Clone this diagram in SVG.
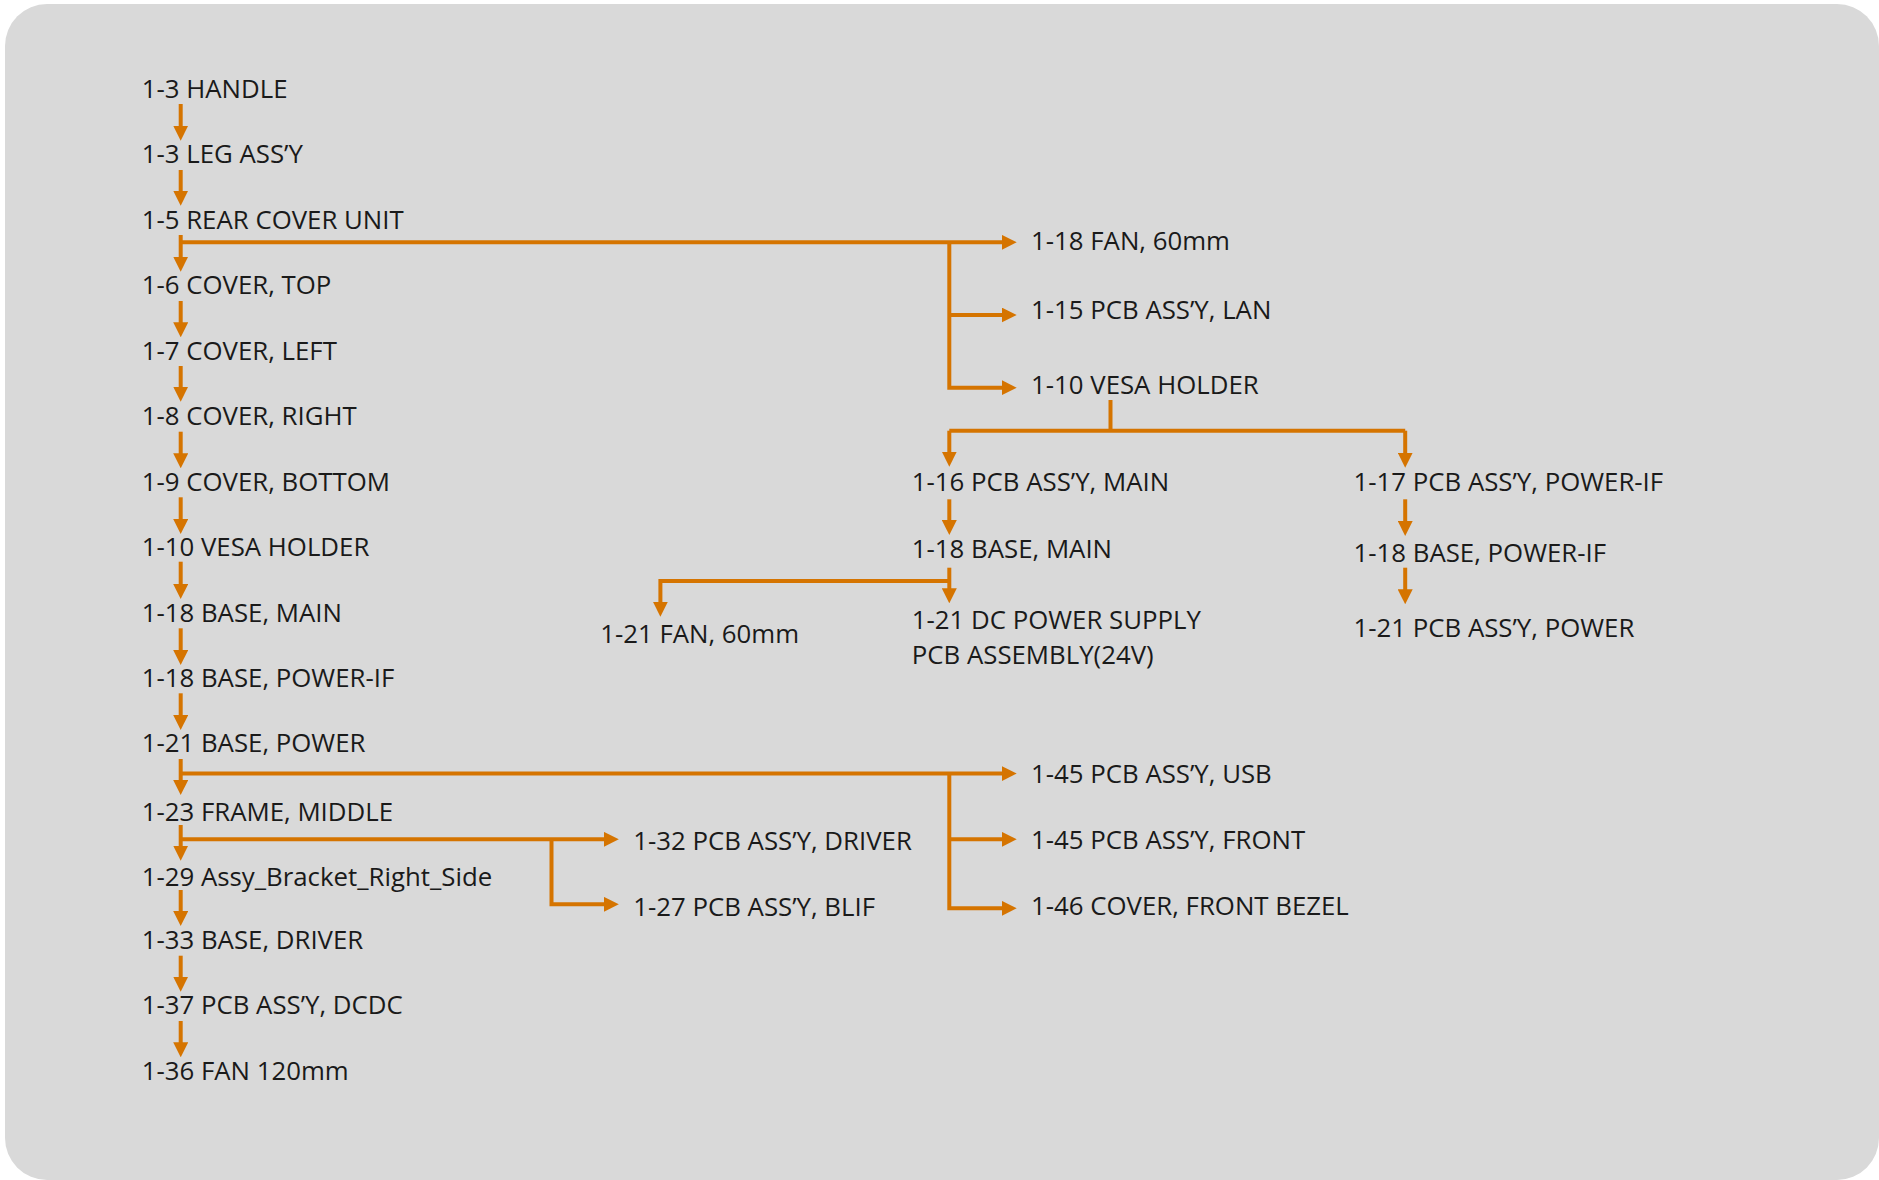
<svg xmlns="http://www.w3.org/2000/svg" width="1879" height="1180" viewBox="0 0 1879 1180">
<defs>
<style>
.t{font-family:"Open Sans","Noto Sans","Liberation Sans",sans-serif;font-size:25.8px;fill:#1a1a1a}
.c{fill:none;stroke:#D57400;stroke-width:4}
.a{marker-end:url(#ah)}
</style>
<marker id="ah" markerUnits="userSpaceOnUse" markerWidth="15" markerHeight="15" refX="7" refY="7.5" orient="auto">
<path d="M0,0 L15,7.5 L0,15 Z" fill="#D57400"/>
</marker>
</defs>
<rect x="5" y="4" width="1874" height="1176" rx="42" ry="42" fill="#D9D9D9"/>
<g id="connectors">
<path class="c a" d="M180.7,104 V132.7"/>
<path class="c a" d="M180.7,170 V197.7"/>
<path class="c a" d="M180.7,235 V263.7"/>
<path class="c a" d="M180.7,301 V329.3"/>
<path class="c a" d="M180.7,366 V393.7"/>
<path class="c a" d="M180.7,431.7 V460.3"/>
<path class="c a" d="M180.7,497.3 V526"/>
<path class="c a" d="M180.7,561.7 V591"/>
<path class="c a" d="M180.7,628.3 V657"/>
<path class="c a" d="M180.7,693.3 V722"/>
<path class="c a" d="M180.7,759 V787"/>
<path class="c a" d="M180.7,825 V852.7"/>
<path class="c a" d="M180.7,890 V918"/>
<path class="c a" d="M180.7,955.7 V983.7"/>
<path class="c a" d="M180.7,1021 V1049.3"/>
<path class="c a" d="M180.7,242.3 H1008.7"/>
<path class="c a" d="M949.3,242.3 V387.7 H1008.7"/>
<path class="c a" d="M949.3,315 H1008.7"/>
<path class="c" d="M1110.5,400 V430.7"/>
<path class="c" d="M949.3,430.7 H1405.2"/>
<path class="c a" d="M949.3,430.7 V458.7"/>
<path class="c a" d="M1405.2,430.7 V459.7"/>
<path class="c a" d="M949.3,499.3 V527"/>
<path class="c a" d="M949.3,567.7 V595.3"/>
<path class="c a" d="M949.3,581 H660.4 V608.7"/>
<path class="c a" d="M1405.2,499.3 V528"/>
<path class="c a" d="M1405.2,567.7 V596.3"/>
<path class="c a" d="M180.7,773.6 H1008.7"/>
<path class="c a" d="M949.3,773.6 V908.3 H1008.7"/>
<path class="c a" d="M949.3,839.3 H1008.7"/>
<path class="c a" d="M180.7,839.3 H610.8"/>
<path class="c a" d="M551.5,839.3 V904.3 H610.8"/>
</g>
<g id="n-handle"><text class="t" x="141.7" y="98.3">1-3 HANDLE</text></g>
<g id="n-leg"><text class="t" x="141.7" y="163.3">1-3 LEG ASS’Y</text></g>
<g id="n-rear"><text class="t" x="141.7" y="229.3">1-5 REAR COVER UNIT</text></g>
<g id="n-top"><text class="t" x="141.7" y="294.3">1-6 COVER, TOP</text></g>
<g id="n-left"><text class="t" x="141.7" y="360">1-7 COVER, LEFT</text></g>
<g id="n-right"><text class="t" x="141.7" y="425">1-8 COVER, RIGHT</text></g>
<g id="n-bottom"><text class="t" x="141.7" y="490.7">1-9 COVER, BOTTOM</text></g>
<g id="n-vesa"><text class="t" x="141.7" y="555.7">1-10 VESA HOLDER</text></g>
<g id="n-basemain"><text class="t" x="141.7" y="621.7">1-18 BASE, MAIN</text></g>
<g id="n-basepowerif"><text class="t" x="141.7" y="686.7">1-18 BASE, POWER-IF</text></g>
<g id="n-basepower"><text class="t" x="141.7" y="751.7">1-21 BASE, POWER</text></g>
<g id="n-frame"><text class="t" x="141.7" y="820.7">1-23 FRAME, MIDDLE</text></g>
<g id="n-bracket"><text class="t" x="141.7" y="886">1-29 Assy_Bracket_Right_Side</text></g>
<g id="n-basedriver"><text class="t" x="141.7" y="949">1-33 BASE, DRIVER</text></g>
<g id="n-dcdc"><text class="t" x="141.7" y="1014.3">1-37 PCB ASS’Y, DCDC</text></g>
<g id="n-fan120"><text class="t" x="141.7" y="1080">1-36 FAN 120mm</text></g>
<g id="n-fan60a"><text class="t" x="1031" y="250">1-18 FAN, 60mm</text></g>
<g id="n-lan"><text class="t" x="1031" y="319">1-15 PCB ASS’Y, LAN</text></g>
<g id="n-vesa2"><text class="t" x="1031" y="394.3">1-10 VESA HOLDER</text></g>
<g id="n-pcbmain"><text class="t" x="911.8" y="490.7">1-16 PCB ASS’Y, MAIN</text></g>
<g id="n-basemain2"><text class="t" x="911.8" y="558.3">1-18 BASE, MAIN</text></g>
<g id="n-dcpsu"><text class="t" x="911.8" y="628.8"><tspan x="911.8" y="628.8">1-21 DC POWER SUPPLY</tspan><tspan x="911.8" y="664.2">PCB ASSEMBLY(24V)</tspan></text></g>
<g id="n-fan60b"><text class="t" x="600.2" y="643.3">1-21 FAN, 60mm</text></g>
<g id="n-pcbpowerif"><text class="t" x="1353.5" y="490.7">1-17 PCB ASS’Y, POWER-IF</text></g>
<g id="n-basepowerif2"><text class="t" x="1353.5" y="561.7">1-18 BASE, POWER-IF</text></g>
<g id="n-pcbpower"><text class="t" x="1353.5" y="636.7">1-21 PCB ASS’Y, POWER</text></g>
<g id="n-usb"><text class="t" x="1031" y="783.3">1-45 PCB ASS’Y, USB</text></g>
<g id="n-front"><text class="t" x="1031" y="849.3">1-45 PCB ASS’Y, FRONT</text></g>
<g id="n-bezel"><text class="t" x="1031" y="915">1-46 COVER, FRONT BEZEL</text></g>
<g id="n-driver"><text class="t" x="633.2" y="850">1-32 PCB ASS’Y, DRIVER</text></g>
<g id="n-blif"><text class="t" x="633.2" y="915.7">1-27 PCB ASS’Y, BLIF</text></g>
</svg>
